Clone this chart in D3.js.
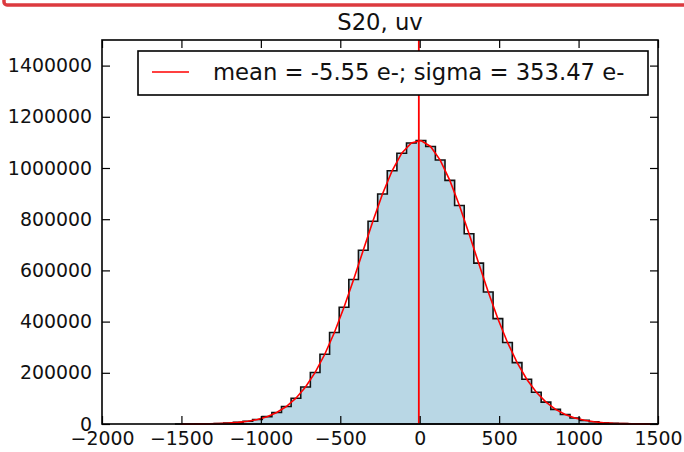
<!DOCTYPE html>
<html lang="en">
<head>
  <meta charset="UTF-8">
  <title>S20, uv</title>
  <style>
    body { margin: 0; background: #fff; }
    svg { display: block; font-family: "DejaVu Sans", sans-serif; }
    .axis text { font-family: "DejaVu Sans", sans-serif; font-size: 18.9px; fill: #111; }
    .axis line { stroke: #000; stroke-width: 1.2; }
    .axis path { display: none; }
  </style>
  <script src="https://d3js.org/d3.v7.min.js"></script>
</head>
<body>
  <div id="chart"></div>

  <script>
    // histogram: 50 bins between these edges
    var binRange = [-1536, 1491];
    var counts = [140, 270, 560, 1050, 1980, 3550, 6300, 10700, 17800, 28700,
      45100, 68300, 100800, 144800, 201300, 272600, 357400, 456100, 564200, 679000,
      792100, 898700, 989000, 1057900, 1097800, 1107500, 1083900, 1031000, 951500, 853600,
      742900, 628500, 515700, 411500, 318300, 239700, 174800, 124100, 85300, 57200,
      37000, 23500, 14200, 8500, 4900, 2760, 1490, 800, 400, 200];

    // red fitted curve, one value per bin centre
    var fitValues = [136, 277, 548, 1054, 1968, 3565, 6275, 10730, 17820, 28730,
      45000, 68400, 100900, 144700, 201500, 272400, 357600, 455900, 564500, 678800,
      792400, 898500, 989200, 1057700, 1098100, 1107200, 1084100, 1030800, 951700, 853400,
      743100, 628300, 515900, 411300, 318500, 239500, 174900, 124000, 85400, 57100,
      37100, 23400, 14300, 8510, 4910, 2750, 1500, 793, 407, 203];

    var meanValue = -5.55;
    var sigmaValue = 353.47;
    var xTicks = [-2000, -1500, -1000, -500, 0, 500, 1000, 1500];
    var yTicks = [0, 200000, 400000, 600000, 800000, 1000000, 1200000, 1400000];
    var titleText = "S20, uv";
    var legendText = "mean = " + meanValue + " e-; sigma = " + sigmaValue + " e-";

    var margin = { top: 40, left: 102 },
      width = 556,
      height = 384;

    var svgRoot = d3.select("#chart").append("svg")
      .attr("width", 684)
      .attr("height", 452);

    // red frame cut off at the top of the screenshot
    svgRoot.append("rect")
      .attr("x", 4).attr("y", -30)
      .attr("width", 720).attr("height", 35)
      .attr("rx", 3)
      .attr("fill", "none")
      .attr("stroke", "#dc3a3f")
      .attr("stroke-width", 3.5);

    var svg = svgRoot.append("g")
      .attr("transform", "translate(" + margin.left + "," + margin.top + ")");

    var x = d3.scaleLinear().domain([-2000, 1500]).range([0, width]);
    var y = d3.scaleLinear().domain([0, 1500000]).range([height, 0]);

    var binWidth = (binRange[1] - binRange[0]) / counts.length;
    var bins = counts.map(function(c, i) {
      return { x0: binRange[0] + i * binWidth, x1: binRange[0] + (i + 1) * binWidth, n: c };
    });

    // step outline of the histogram
    var pts = [[x(binRange[0]), y(0)]];
    bins.forEach(function(b) {
      pts.push([x(b.x0), y(b.n)]);
      pts.push([x(b.x1), y(b.n)]);
    });
    pts.push([x(binRange[1]), y(0)]);

    svg.append("path")
      .attr("d", d3.line()(pts) + "Z")
      .attr("fill", "#b9d7e5")
      .attr("stroke", "#111")
      .attr("stroke-width", 1.6)
      .attr("stroke-linejoin", "miter");

    // fitted curve
    svg.append("path")
      .datum(fitValues)
      .attr("d", d3.line()
        .x(function(d, i) { return x(bins[i].x0 + binWidth / 2); })
        .y(function(d) { return y(d); }))
      .attr("fill", "none")
      .attr("stroke", "#ff0000")
      .attr("stroke-width", 1.6);

    // mean line
    svg.append("line")
      .attr("x1", x(meanValue)).attr("x2", x(meanValue))
      .attr("y1", 0).attr("y2", height)
      .attr("stroke", "#ff0000")
      .attr("stroke-width", 1.8);

    var fmt = function(d) { return d < 0 ? "\u2212" + Math.abs(d) : String(d); };

    svg.append("g").attr("class", "axis")
      .attr("transform", "translate(0," + height + ")")
      .call(d3.axisBottom(x).tickValues(xTicks).tickSize(-8).tickPadding(8).tickFormat(fmt));
    svg.append("g").attr("class", "axis")
      .call(d3.axisTop(x).tickValues(xTicks).tickSize(-8).tickFormat(""));
    svg.append("g").attr("class", "axis")
      .call(d3.axisLeft(y).tickValues(yTicks).tickSize(-8).tickPadding(10).tickFormat(d3.format("d")));
    svg.append("g").attr("class", "axis")
      .attr("transform", "translate(" + width + ",0)")
      .call(d3.axisRight(y).tickValues(yTicks).tickSize(-8).tickFormat(""));

    // frame
    svg.append("rect")
      .attr("width", width).attr("height", height)
      .attr("fill", "none")
      .attr("stroke", "#000")
      .attr("stroke-width", 1.6);

    // legend
    var legend = svg.append("g").attr("transform", "translate(36,11)");
    legend.append("rect")
      .attr("width", 510).attr("height", 44)
      .attr("fill", "#fff")
      .attr("stroke", "#000")
      .attr("stroke-width", 1.6);
    legend.append("line")
      .attr("x1", 14).attr("x2", 51)
      .attr("y1", 21).attr("y2", 21)
      .attr("stroke", "#ff0000")
      .attr("stroke-width", 1.6);
    legend.append("text")
      .attr("x", 75).attr("y", 29)
      .attr("font-size", "22.7px")
      .attr("fill", "#111")
      .text(legendText);

    // title
    svg.append("text")
      .attr("x", width / 2).attr("y", -10)
      .attr("text-anchor", "middle")
      .attr("font-size", "22.7px")
      .attr("fill", "#111")
      .text(titleText);
  </script>
</body>
</html>
